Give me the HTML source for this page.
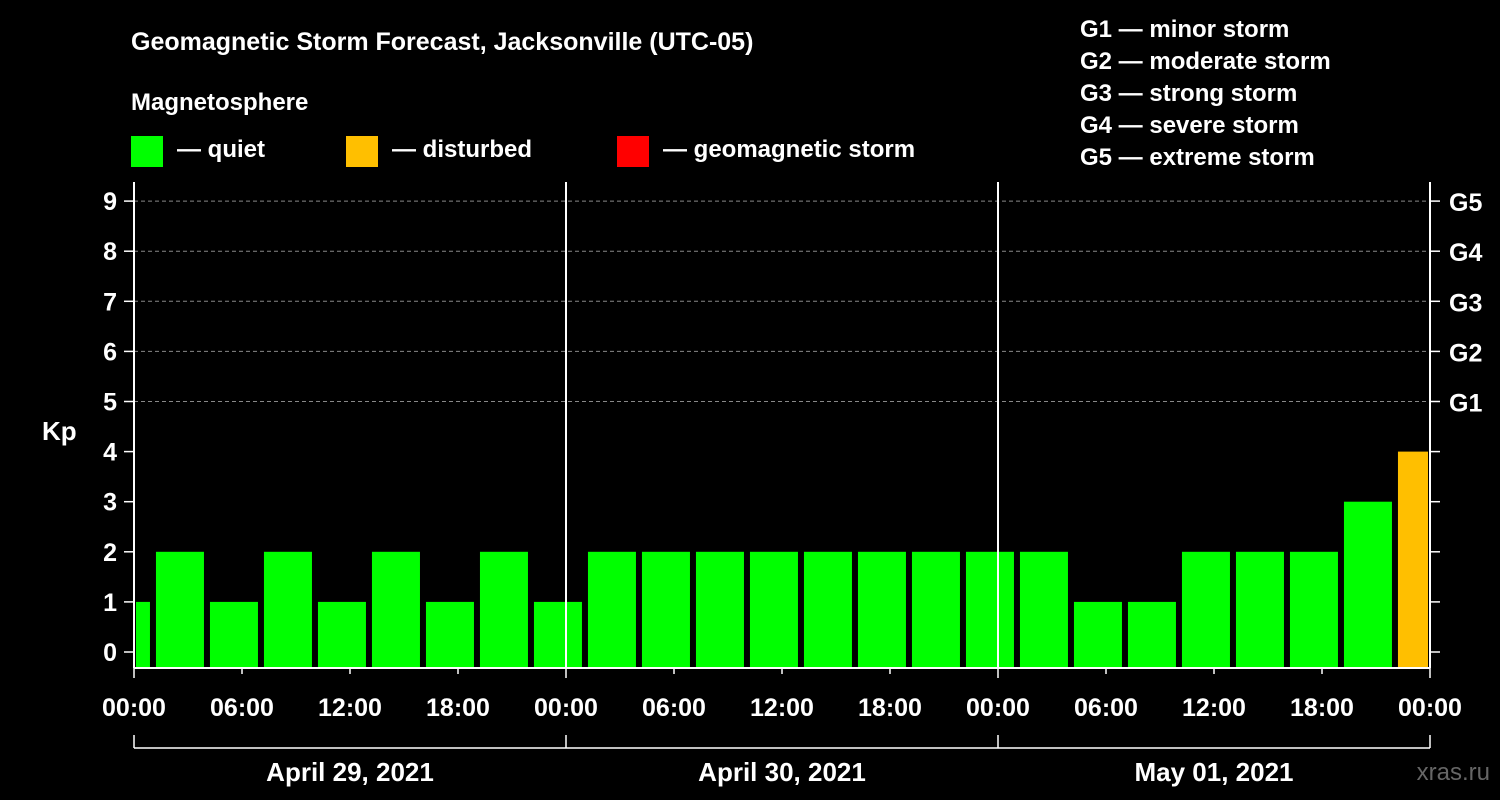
<!DOCTYPE html>
<html><head><meta charset="utf-8"><style>
html,body{margin:0;padding:0;background:#000;}
svg{display:block;font-family:"Liberation Sans",Arial,sans-serif;font-weight:bold;}
</style></head><body>
<svg id="chart" width="1500" height="800" viewBox="0 0 1500 800">
<rect width="1500" height="800" fill="#000"/>
<text x="131" y="50" font-size="25" fill="#fff">Geomagnetic Storm Forecast, Jacksonville (UTC-05)</text>
<text x="131" y="110" font-size="24" fill="#fff">Magnetosphere</text>
<g><rect x="131" y="136" width="32" height="31" fill="#00ff00"/><text x="177" y="157" font-size="24" fill="#fff">— quiet</text></g>
<g><rect x="346" y="136" width="32" height="31" fill="#ffbf00"/><text x="392" y="157" font-size="24" fill="#fff">— disturbed</text></g>
<g><rect x="617" y="136" width="32" height="31" fill="#ff0000"/><text x="663" y="157" font-size="24" fill="#fff">— geomagnetic storm</text></g>
<g font-size="24" fill="#fff">
<text x="1080" y="37">G1 — minor storm</text>
<text x="1080" y="69">G2 — moderate storm</text>
<text x="1080" y="101">G3 — strong storm</text>
<text x="1080" y="133">G4 — severe storm</text>
<text x="1080" y="165">G5 — extreme storm</text>
</g>
<text x="42" y="440" font-size="26" fill="#fff">Kp</text>
<text x="1490" y="780" font-size="24" fill="#666" text-anchor="end" font-weight="normal">xras.ru</text>
<g id="grid"></g><g id="bars"></g><g id="axes"></g>
</svg>
<script>
const kpValues = [1,2,1,2,1,2,1,2,1,2,2,2,2,2,2,2,2,2,1,1,2,2,2,3,4];
const yTicks = [0,1,2,3,4,5,6,7,8,9];
const gLabels = ["G1","G2","G3","G4","G5"];
const xTickLabels = ["00:00","06:00","12:00","18:00","00:00","06:00","12:00","18:00","00:00","06:00","12:00","18:00","00:00"];
const dayLabels = ["April 29, 2021","April 30, 2021","May 01, 2021"];

const NS="http://www.w3.org/2000/svg";
const X0=134,X1=1430,TOP=182,BOT=668,HOURS=72;
const xs=h=>X0+(X1-X0)*h/HOURS;
const ys=k=>652-50.1*k;
function mk(parent,tag,attrs,text){const e=document.createElementNS(NS,tag);for(const k in attrs)e.setAttribute(k,attrs[k]);if(text!==undefined)e.textContent=text;document.getElementById(parent).appendChild(e);return e;}

yTicks.forEach(k=>{
  if(k>=5){const l=mk('grid','line',{x1:X0,x2:X1,y1:ys(k),y2:ys(k),stroke:'#888','stroke-dasharray':'4,3','stroke-width':1});
    
    }
  const t=mk('axes','line',{x1:124,x2:X0,y1:ys(k),y2:ys(k),stroke:'#fff','stroke-width':1.5});
  
  
  const t2=mk('axes','line',{x1:X1,x2:1440,y1:ys(k),y2:ys(k),stroke:'#fff','stroke-width':1.5});
  
  
  const lb=mk('axes','text',{x:117,y:ys(k)+9,'font-size':25,fill:'#fff','text-anchor':'end'},String(k));
  
  
});
gLabels.forEach((g,i)=>{
  const lb=mk('axes','text',{x:1449,y:ys(5+i)+10,'font-size':25,fill:'#fff'},g);
  
  
});
kpValues.forEach((v,n)=>{
  let a=xs(3*n-1.78), b=a+48;
  a=Math.max(a,136); b=Math.min(b,1428);
  const col=v>=5?'#ff0000':(v>=4?'#ffbf00':'#00ff00');
  const r=mk('bars','rect',{x:a,y:ys(v),width:b-a,height:BOT-ys(v),fill:col});
  
  
});
[X0,X1].forEach(x=>{const l=mk('axes','line',{x1:x,x2:x,y1:TOP,y2:BOT,stroke:'#fff','stroke-width':2});
  
  });
[24,48].forEach(h=>{const l=mk('axes','line',{x1:xs(h),x2:xs(h),y1:TOP,y2:BOT,stroke:'#fff','stroke-width':2});
  
  });
const xa=mk('axes','line',{x1:X0,x2:X1,y1:BOT,y2:BOT,stroke:'#fff','stroke-width':2});


xTickLabels.forEach((s,i)=>{
  const x=xs(i*6);
  const t=mk('axes','line',{x1:x,x2:x,y1:BOT,y2:BOT+(i%4===0?10:6),stroke:'#fff','stroke-width':1.5});
  
  
  if(i%2===0||true){
    const lb=mk('axes','text',{x:x,y:716,'font-size':25,fill:'#fff','text-anchor':'middle'},s);
    
    
  }
});
const br=mk('axes','line',{x1:X0,x2:X1,y1:748,y2:748,stroke:'#fff','stroke-width':1.5});


[0,24,48,72].forEach(h=>{const l=mk('axes','line',{x1:xs(h),x2:xs(h),y1:735,y2:748,stroke:'#fff','stroke-width':1.5});
  
  });
dayLabels.forEach((d,i)=>{
  const lb=mk('axes','text',{x:xs(24*i+12),y:781,'font-size':26,fill:'#fff','text-anchor':'middle'},d);
  
  
});
</script>
</body></html>
